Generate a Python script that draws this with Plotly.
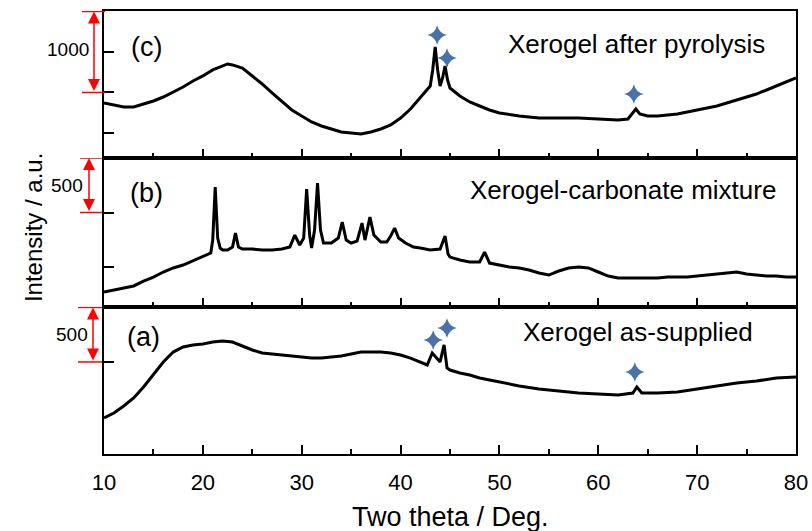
import plotly.graph_objects as go
from plotly.subplots import make_subplots

# ---------------- data ----------------
# (c) Xerogel after pyrolysis
c_x = [10, 11, 12, 13, 14, 15, 16, 17, 18, 19, 20, 21, 22, 22.5, 23, 24, 25, 26, 27, 28, 29, 30,
       31, 32, 33, 34, 35, 36, 37, 38, 39, 40, 41, 42, 42.5, 43, 43.25, 43.5, 43.75, 44, 44.25,
       44.5, 44.75, 45, 46, 47, 48, 49, 50, 52, 54, 56, 58, 60, 62, 63, 63.5, 63.8, 64.2, 65, 66,
       67, 68, 70, 72, 74, 76, 78, 80]
c_y = [870, 846, 821, 821, 858, 895, 944, 1006, 1068, 1142, 1204, 1278, 1327, 1352, 1340, 1302,
       1204, 1105, 994, 883, 784, 710, 636, 586, 549, 512, 500, 487, 512, 549, 599, 685, 796, 932,
       1006, 1080, 1278, 1562, 1278, 1080, 1179, 1327, 1154, 1055, 956, 883, 833, 784, 747, 710,
       685, 685, 685, 673, 660, 673, 759, 796, 734, 710, 710, 722, 734, 784, 833, 907, 981, 1080,
       1179]

# (b) Xerogel-carbonate mixture
b_x = [10, 11, 12, 13, 14, 15, 16, 17, 18, 19, 20, 20.8, 21.0, 21.25, 21.5, 21.75, 22, 22.5, 23,
       23.3, 23.6, 24, 25, 26, 27, 28, 28.8, 29.3, 29.8, 30.2, 30.5, 30.8, 31.0, 31.3, 31.6, 31.9,
       32.2, 33, 33.7, 34.1, 34.5, 35, 35.6, 36.1, 36.4, 36.9, 37.3, 37.6, 38, 38.6, 39.0, 39.4,
       39.8, 40.5, 41.3, 42, 43, 44, 44.5, 44.8, 45, 46, 47, 48, 48.5, 49, 50, 51, 52, 53, 54, 55,
       56, 57, 58, 59, 60, 61, 62, 63, 64, 65, 66, 67, 68, 69, 70, 71, 72, 73, 74, 75, 76, 77, 78,
       79, 80]
b_y = [271, 289, 307, 326, 371, 408, 454, 491, 518, 555, 591, 628, 747, 1233, 766, 674, 656, 656,
       683, 812, 683, 665, 665, 656, 656, 665, 683, 793, 702, 766, 1215, 793, 674, 839, 1270, 839,
       720, 720, 766, 912, 747, 720, 738, 903, 747, 958, 793, 766, 729, 729, 784, 857, 766, 720,
       683, 674, 656, 665, 784, 619, 591, 564, 546, 546, 637, 536, 518, 500, 491, 472, 445, 426,
       463, 491, 500, 491, 454, 417, 399, 399, 399, 399, 399, 408, 408, 408, 417, 426, 436, 445,
       454, 436, 426, 417, 417, 408, 408]

# (a) Xerogel as-supplied
a_x = [10, 11, 12, 13, 14, 15, 16, 17, 18, 19, 20, 21, 22, 23, 24, 25, 26, 27, 28, 29, 30, 31, 32,
       33, 34, 35, 36, 37, 38, 39, 40, 41, 42, 42.7, 43.2, 43.6, 44, 44.4, 44.7, 45, 46, 47, 48, 49,
       50, 52, 54, 56, 58, 60, 62, 63.5, 63.9, 64.4, 66, 68, 70, 72, 74, 76, 78, 80]
a_y = [486, 532, 596, 670, 770, 880, 1000, 1091, 1137, 1156, 1165, 1183, 1192, 1183, 1146, 1110,
       1082, 1073, 1064, 1055, 1046, 1036, 1036, 1046, 1055, 1073, 1091, 1091, 1091, 1082, 1064,
       1036, 1000, 972, 1082, 1036, 1000, 1156, 945, 926, 899, 880, 853, 835, 816, 780, 752, 734,
       715, 706, 697, 715, 770, 715, 715, 725, 752, 780, 807, 825, 853, 862]

# star markers (phase reflections)
c_star_x = [43.7, 44.7, 63.6]
c_star_y = [1710, 1426, 981]
a_star_x = [43.3, 44.7, 63.7]
a_star_y = [1201, 1311, 908]

panel_labels = ["(c)", "(b)", "(a)"]
panel_names = ["Xerogel after pyrolysis", "Xerogel-carbonate mixture", "Xerogel as-supplied"]
scale_labels = ["1000", "500", "500"]
scale_bars = [(1000, 2000), (1000, 1500), (1000, 1500)]
x_ticks = [10, 20, 30, 40, 50, 60, 70, 80]

# ---------------- figure ----------------
FONT = "Liberation Sans, Arial, sans-serif"
fig = make_subplots(rows=3, cols=1, shared_xaxes=True, vertical_spacing=0)

line = dict(color="black", width=3)
fig.add_trace(go.Scatter(x=c_x, y=c_y, mode="lines", line=line), row=1, col=1)
fig.add_trace(go.Scatter(x=b_x, y=b_y, mode="lines", line=line), row=2, col=1)
fig.add_trace(go.Scatter(x=a_x, y=a_y, mode="lines", line=line), row=3, col=1)

star = dict(symbol="star-diamond", size=14, color="#4a72a8", line=dict(width=0))
fig.add_trace(go.Scatter(x=c_star_x, y=c_star_y, mode="markers", marker=star), row=1, col=1)
fig.add_trace(go.Scatter(x=a_star_x, y=a_star_y, mode="markers", marker=star), row=3, col=1)

H = 443.0
doms = [[(454 - 158) / H, 1.0], [(454 - 307) / H, (454 - 158) / H], [0.0, (454 - 307) / H]]
yranges = [[191, 2006], [133, 1500], [156, 1504]]
ytickv = [[500, 1000, 1500], [500, 1000], [1000]]

for i in range(3):
    r = i + 1
    fig.update_yaxes(row=r, col=1, domain=doms[i], range=yranges[i], tickvals=ytickv[i],
                     ticks="inside", ticklen=10, tickwidth=1.5, tickcolor="black",
                     showticklabels=False, showgrid=False, zeroline=False, automargin=False,
                     showline=True, linecolor="black", linewidth=2, mirror=True)
    fig.update_xaxes(row=r, col=1, range=[10, 80], tickvals=x_ticks, automargin=False,
                     ticks="inside", ticklen=9, tickwidth=1.5, tickcolor="black",
                     minor=dict(ticks="inside", ticklen=5, tickwidth=1.5, tickcolor="black",
                                dtick=5, tick0=5, showgrid=False),
                     showgrid=False, zeroline=False, showline=True, linecolor="black",
                     linewidth=2, mirror=True, showticklabels=(r == 3),
                     tickfont=dict(family=FONT, size=22, color="black"))

fig.update_xaxes(row=3, col=1, ticklabelstandoff=8)

W = 692.0
ann = []
ann.append(dict(text="Two theta / Deg.", x=(451 - 104) / W, y=(454 - 517) / H, xref="paper",
                yref="paper", showarrow=False, xanchor="center", yanchor="middle",
                font=dict(family=FONT, size=27, color="black")))
ann.append(dict(text="Intensity / a.u.", x=(33 - 104) / W, y=0.51, xref="paper", yref="paper",
                showarrow=False, textangle=-90, xanchor="center", yanchor="middle",
                font=dict(family=FONT, size=24, color="black")))
letter_pos = [(0.0607, 0.9187), (0.0607, 0.589), (0.0578, 0.264)]
name_pos = [(0.958, 0.9255), (0.974, 0.596), (0.941, 0.275)]
for i in range(3):
    ann.append(dict(text=panel_labels[i], x=letter_pos[i][0], y=letter_pos[i][1],
                    xref="paper", yref="paper", showarrow=False, xanchor="center",
                    yanchor="middle", font=dict(family=FONT, size=27, color="black")))
    ann.append(dict(text=panel_names[i], x=name_pos[i][0], y=name_pos[i][1],
                    xref="paper", yref="paper", showarrow=False, xanchor="right",
                    yanchor="middle", font=dict(family=FONT, size=26, color="black")))

# red scale bars
yrefs = ["y", "y2", "y3"]
px_per_unit = [40.5 / 500, 54.5 / 500, 54.5 / 500]
bar_x = [(94 - 104) / W, (89 - 104) / W, (93 - 104) / W]
hline_x = [((82 - 104) / W, (105 - 104) / W), ((80 - 104) / W, (102 - 104) / W),
           ((78 - 104) / W, (102 - 104) / W)]
lab_x = [(91 - 104) / W, (85 - 104) / W, (90 - 104) / W]
lab_y = [1530, 1250, 1250]
shapes = []
for i in range(3):
    lo, hi = scale_bars[i]
    for yy in (lo, hi):
        shapes.append(dict(type="line", xref="paper", yref=yrefs[i], x0=hline_x[i][0],
                           x1=hline_x[i][1], y0=yy, y1=yy, line=dict(color="red", width=1.5)))
    ann.append(dict(x=bar_x[i], y=hi, ax=0, ay=(hi - lo) * px_per_unit[i], xref="paper",
                    yref=yrefs[i], axref="pixel", ayref="pixel", text="", showarrow=True,
                    arrowhead=2, arrowside="end+start", arrowsize=1.6, arrowwidth=1.5,
                    arrowcolor="red", standoff=0, startstandoff=0))
    ann.append(dict(text=scale_labels[i], x=lab_x[i], y=lab_y[i],
                    xref="paper", yref=yrefs[i], showarrow=False, xanchor="right",
                    yanchor="middle", font=dict(family=FONT, size=19, color="black")))

fig.update_layout(width=812, height=531, margin=dict(l=104, r=16, t=11, b=77),
                  paper_bgcolor="white", plot_bgcolor="white", showlegend=False,
                  annotations=ann, shapes=shapes)

fig.write_html("out.html")
